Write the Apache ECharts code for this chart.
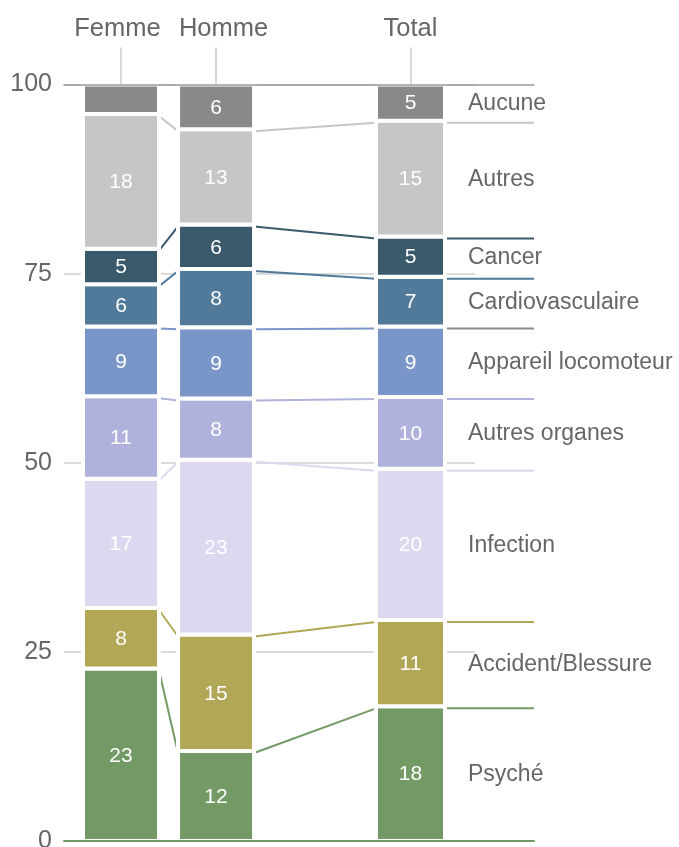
<!DOCTYPE html>
<html>
<head>
<meta charset="utf-8">
<script src="https://cdn.jsdelivr.net/npm/echarts@6/dist/echarts.min.js"></script>
<style>
  html, body { margin: 0; padding: 0; background: #fff; }
  #chart { width: 679px; height: 847px; }
</style>
</head>
<body>
<div id="chart"></div>
<script>
// Bars on the top axis
var categories = ['Femme', 'Homme', 'Total'];
// Causes, from the bottom of each bar to the top
var causes = ['Psyché', 'Accident/Blessure', 'Infection', 'Autres organes',
  'Appareil locomoteur', 'Cardiovasculaire', 'Cancer', 'Autres', 'Aucune'];
// Share in % per cause (same order as causes)
var femme = [22.8, 8.0, 17.1, 10.9, 9.2, 5.6, 4.7, 17.8, 3.9];
var homme = [11.9, 15.4, 23.1, 8.1, 9.4, 7.7, 5.9, 12.6, 5.9];
var total = [17.8, 11.4, 20.0, 9.5, 9.3, 6.6, 5.3, 15.3, 4.8];

// Look
var colors = ['#739a65', '#b2a757', '#dbd8ef', '#aeb2dc', '#7a96c8',
  '#51799a', '#3a596b', '#c6c6c6', '#898989'];
var edgeColors = { 4: '#8a8a8a' };   // right-hand line of Appareil locomoteur is grey
var xPos = [0, 0.985, 3];            // where each bar sits on the hidden x scale
var barPx = [76, 76, 69];            // bar widths (px), white border included
var labelStyle = ['f', 'h', 't'];    // top labels nudged apart like the original
var xMin = -0.5907, xMax = 4.2798;
var font = '"Liberation Sans", Arial, Helvetica, sans-serif';

var table = [femme, homme, total];
// cumulative [bottom, top] for each bar / cause
var stacks = table.map(function (vals) {
  var acc = 0;
  return vals.map(function (v) {
    var b = acc;
    acc += v;
    return [b, acc];
  });
});

function renderBar(i) {
  return function (params, api) {
    var j = api.value(4);
    var p0 = api.coord([api.value(0), api.value(1)]);
    var p1 = api.coord([api.value(0), api.value(2)]);
    var w = barPx[j];
    var x = p0[0] - w / 2;
    var mid = (p0[1] + p1[1]) / 2;
    var v = api.value(3);
    var children = [{
      type: 'rect',
      shape: { x: x, y: p1[1], width: w, height: p0[1] - p1[1] },
      style: { fill: colors[i], stroke: '#fff', lineWidth: 4 }
    }];
    if (v >= 4.5) {
      children.push({
        type: 'text',
        style: {
          text: String(Math.round(v)), x: p0[0], y: mid + 1,
          align: 'center', verticalAlign: 'middle',
          fill: '#fff', fontSize: 21, fontFamily: font
        }
      });
    }
    // cause name beside the last bar
    if (j === categories.length - 1) {
      children.push({
        type: 'text',
        style: {
          text: causes[i], x: x + w + 23, y: mid + 1,
          align: 'left', verticalAlign: 'middle',
          fill: '#666', fontSize: 23, fontFamily: font
        }
      });
    }
    return { type: 'group', children: children };
  };
}

// connector lines: segment tops joined from one bar to the next
var links = [];
causes.forEach(function (c, i) {
  if (i === causes.length - 1) return;   // top one is the axis line
  for (var j = 0; j < categories.length; j++) {
    if (j < categories.length - 1) {
      links.push([xPos[j], stacks[j][i][1], xPos[j + 1], stacks[j + 1][i][1], i, j, j + 1]);
    } else {
      links.push([xPos[j], stacks[j][i][1], xMax, stacks[j][i][1], i, j, -1]);
    }
  }
});

function renderLink(params, api) {
  var i = api.value(4), j = api.value(5), k = api.value(6);
  var a = api.coord([api.value(0), api.value(1)]);
  var b = api.coord([api.value(2), api.value(3)]);
  var x1 = a[0] + barPx[j] / 2;
  var x2 = k >= 0 ? b[0] - barPx[k] / 2 : b[0];
  return {
    type: 'line',
    shape: { x1: x1, y1: a[1] + 2, x2: x2, y2: b[1] + 2 },
    style: { stroke: k >= 0 ? colors[i] : (edgeColors[i] || colors[i]), lineWidth: 2 }
  };
}

var series = [{
  type: 'custom',
  name: 'liens',
  xAxisIndex: 1,
  yAxisIndex: 1,
  z: 1,
  clip: false,
  silent: true,
  data: links,
  renderItem: renderLink
}];

causes.forEach(function (c, i) {
  series.push({
    type: 'custom',
    name: c,
    xAxisIndex: 1,
    yAxisIndex: 1,
    z: 3,
    clip: false,
    data: categories.map(function (cat, j) {
      return [xPos[j], stacks[j][i][0], stacks[j][i][1], table[j][i], j];
    }),
    renderItem: renderBar(i)
  });
});

var topLabel = { fontSize: 25.5, color: '#666', fontFamily: font };

var chart = echarts.init(document.getElementById('chart'));
var option = {
  animation: false,
  backgroundColor: '#fff',
  grid: [
    // gridlines + y labels
    { left: 64, right: 204, top: 84.5, bottom: 6, outerBoundsMode: 'none', containLabel: false },
    // bars, lines, top axis
    { left: 64, right: 145, top: 84.5, bottom: 6, outerBoundsMode: 'none', containLabel: false }
  ],
  xAxis: [
    { gridIndex: 0, type: 'value', min: 0, max: 1, show: false },
    {
      gridIndex: 1, type: 'value', position: 'top', min: xMin, max: xMax, z: 10,
      axisLine: { show: true, onZero: false, lineStyle: { color: '#999', width: 1.5 } },
      axisTick: { show: true, customValues: xPos, length: 37, lineStyle: { color: '#ccc', width: 1.5 } },
      axisLabel: {
        customValues: xPos, margin: 43, fontSize: 25.5, color: '#666', fontFamily: font,
        formatter: function (v) {
          var best = 0;
          xPos.forEach(function (p, k) { if (Math.abs(p - v) < Math.abs(xPos[best] - v)) best = k; });
          return '{' + labelStyle[best] + '|' + categories[best] + '}';
        },
        rich: {
          f: Object.assign({ padding: [0, 7, 0, 0] }, topLabel),
          h: Object.assign({ padding: [0, 0, 0, 15] }, topLabel),
          t: Object.assign({}, topLabel)
        }
      },
      splitLine: { show: false }
    },
    {
      gridIndex: 1, type: 'value', position: 'bottom', min: xMin, max: xMax, z: 10,
      axisLine: { show: true, onZero: false, lineStyle: { color: colors[0], width: 2 } },
      axisTick: { show: false },
      axisLabel: { show: false },
      splitLine: { show: false }
    }
  ],
  yAxis: [
    {
      gridIndex: 0, type: 'value', min: 0, max: 100, interval: 25,
      axisLine: { show: false },
      axisTick: { show: false },
      axisLabel: { margin: 12, fontSize: 25, color: '#666', fontFamily: font },
      splitLine: { show: true, lineStyle: { color: '#cfcfcf', width: 1.5 } }
    },
    { gridIndex: 1, type: 'value', min: 0, max: 100, show: false }
  ],
  series: series
};
chart.setOption(option);
</script>
</body>
</html>
